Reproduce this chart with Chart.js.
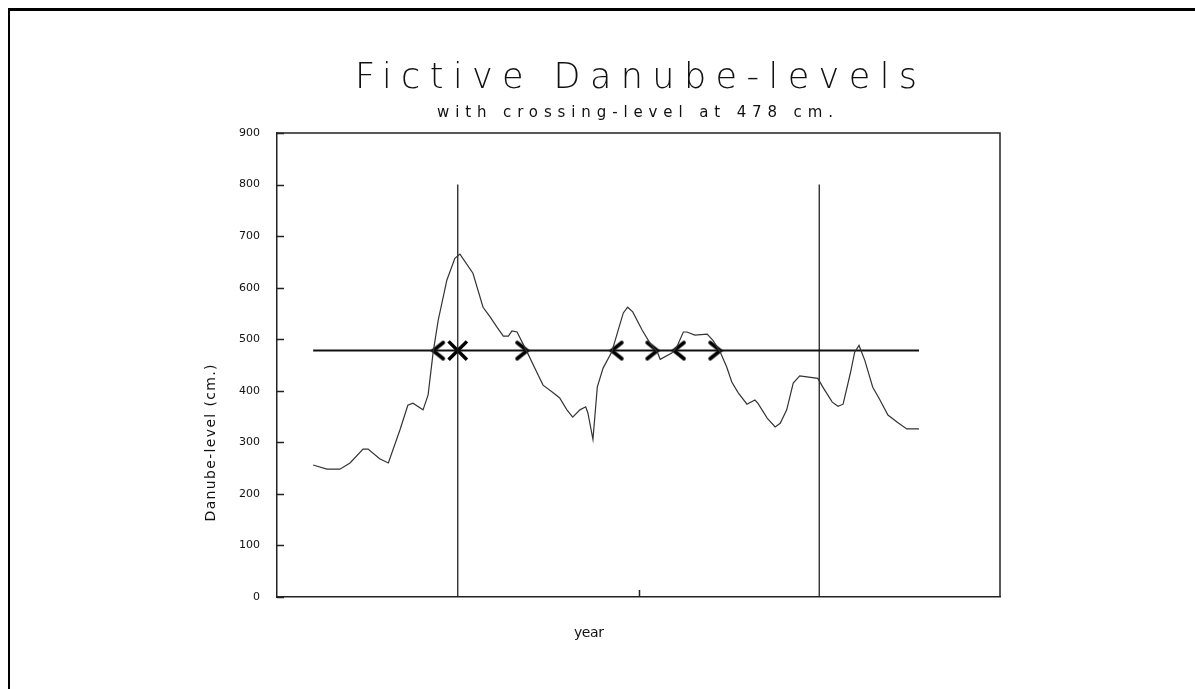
<!DOCTYPE html>
<html>
<head>
<meta charset="utf-8">
<script src="https://cdn.jsdelivr.net/npm/chart.js@4.4.0/dist/chart.umd.min.js"></script>
<style>
    html, body { margin: 0; padding: 0; background: #fff; }
    #wrap { position: relative; width: 1195px; height: 689px; }
    #frame { position: absolute; left: 8px; top: 8px; right: 0; bottom: 0;
             border-top: 3px solid #000; border-left: 2px solid #000; pointer-events: none; }
</style>
</head>
<body>
<div id="wrap">
    <canvas id="danubeChart" width="1195" height="689"></canvas>
    <div id="frame"></div>
</div>
<script>
// Values (x = position along the year axis, 0..100)
const years = [5.0, 6.9, 8.7, 10.1, 11.9, 12.6, 14.2, 15.4, 17.0, 18.1, 18.8, 20.2, 20.9, 21.6, 22.3, 23.5,
    24.6, 25.3, 27.1, 28.5, 29.5, 30.4, 31.3, 32.0, 32.5, 33.2, 34.6, 36.0, 36.8, 38.2, 39.1, 40.1, 40.9,
    41.9, 42.7, 43.0, 43.7, 44.3, 45.1, 46.3, 47.2, 47.9, 48.5, 49.2, 50.5, 51.6, 52.6, 53.0, 54.6, 55.3,
    56.2, 56.7, 57.8, 59.5, 60.3, 61.3, 62.2, 62.9, 63.8, 65.0, 66.1, 66.5, 67.8, 68.9, 69.6, 70.5, 71.4,
    72.3, 73.3, 74.8, 75.5, 76.8, 77.6, 78.3, 79.3, 79.9, 80.5, 81.3, 82.4, 83.4, 84.5, 85.8, 87.1, 88.8];
const levels = [256, 248, 248, 260, 287, 287, 268, 260, 324, 372, 376, 363, 392, 475, 537, 615,
    657, 665, 628, 562, 543, 524, 506, 506, 516, 514, 475, 434, 411, 396, 386, 363, 349,
    363, 369, 357, 306, 407, 444, 475, 518, 551, 562, 553, 518, 492, 475, 461, 473, 485,
    514, 514, 508, 510, 498, 475, 446, 417, 396, 374, 382, 376, 347, 330, 337, 363, 415,
    429, 427, 424, 407, 378, 370, 374, 434, 475, 488, 459, 407, 382, 353, 339, 326, 326];

const crossLevel = 478;
const upCross = [21.6, 46.3, 54.9];     // drawn as "<"
const downCross = [34.6, 52.6, 61.3];   // drawn as ">"
const markYears = [25, 75];             // vertical marker lines
const markTop = 800;
const starYear = [25];                  // the "x" on the crossing line

const yTicks = [0, 100, 200, 300, 400, 500, 600, 700, 800, 900];
const xTicks = [50];

const titleText = 'Fictive Danube-levels';
const subtitleText = 'with crossing-level at 478 cm.';
const yTitle = 'Danube-level (cm.)';
const xTitle = 'year';

// chevron point styles, tip sits on the point
function chevron(dir) {
    const c = document.createElement('canvas');
    c.width = 30; c.height = 22;
    const g = c.getContext('2d');
    g.strokeStyle = '#000';
    g.lineWidth = 3.8;
    g.lineCap = 'round';
    const tipX = 15, armX = 15 - dir * 10;
    g.beginPath();
    g.moveTo(armX, 3);
    g.lineTo(tipX, 11);
    g.lineTo(armX, 19);
    g.stroke();
    return c;
}

function spacedText(ctx, text, cx, baseY, font, width) {
    ctx.font = font;
    ctx.letterSpacing = '0px';
    const w = ctx.measureText(text).width;
    const sp = (width - w) / (text.length - 1);
    ctx.letterSpacing = sp + 'px';
    ctx.textAlign = 'left';
    ctx.textBaseline = 'alphabetic';
    ctx.fillText(text, cx - width / 2, baseY);
    ctx.letterSpacing = '0px';
}

const decorPlugin = {
    id: 'decor',
    afterDraw(chart) {
        const { ctx, chartArea: a, scales } = chart;
        const x = scales.x, y = scales.y;
        ctx.save();
        ctx.strokeStyle = '#222';
        ctx.lineWidth = 1.5;
        ctx.beginPath();
        ctx.moveTo(a.left, a.top);
        ctx.lineTo(a.right, a.top);
        ctx.lineTo(a.right, a.bottom);
        ctx.stroke();

        // inner tick marks
        ctx.beginPath();
        yTicks.forEach(v => {
            const py = Math.round(y.getPixelForValue(v)) + 0.5;
            ctx.moveTo(a.left, py);
            ctx.lineTo(a.left + 7, py);
        });
        xTicks.forEach(v => {
            const px = Math.round(x.getPixelForValue(v)) + 0.5;
            ctx.moveTo(px, a.bottom);
            ctx.lineTo(px, a.bottom - 7);
        });
        ctx.stroke();

        ctx.fillStyle = '#111';
        spacedText(ctx, titleText, 636, 88, '200 35px "DejaVu Sans"', 562);
        spacedText(ctx, subtitleText, 635, 117, '15px "DejaVu Sans"', 396);
        spacedText(ctx, xTitle, 589, 637, '14px "DejaVu Sans"', 30);

        ctx.translate(210, 443);
        ctx.rotate(-Math.PI / 2);
        spacedText(ctx, yTitle, 0, 5, '14px "DejaVu Sans"', 157);
        ctx.restore();
    }
};

const ctx = document.getElementById('danubeChart').getContext('2d');

new Chart(ctx, {
    type: 'line',
    data: {
        datasets: [
            {
                data: years.map((yr, i) => ({ x: yr, y: levels[i] })),
                borderColor: '#333',
                borderWidth: 1.2,
                pointRadius: 0,
                tension: 0
            },
            {
                data: [{ x: years[0], y: crossLevel }, { x: years[years.length - 1], y: crossLevel }],
                borderColor: '#111',
                borderWidth: 2,
                pointRadius: 0
            },
            ...markYears.map(m => ({
                data: [{ x: m, y: 0 }, { x: m, y: markTop }],
                borderColor: '#222',
                borderWidth: 1.3,
                pointRadius: 0
            })),
            {
                data: upCross.map(v => ({ x: v, y: crossLevel })),
                showLine: false,
                pointStyle: chevron(-1),
                pointRadius: 10
            },
            {
                data: downCross.map(v => ({ x: v, y: crossLevel })),
                showLine: false,
                pointStyle: chevron(1),
                pointRadius: 10
            },
            {
                data: starYear.map(v => ({ x: v, y: crossLevel })),
                showLine: false,
                pointStyle: 'crossRot',
                pointRadius: 13,
                borderColor: '#000',
                borderWidth: 3.5
            }
        ]
    },
    options: {
        responsive: false,
        devicePixelRatio: 1,
        animation: false,
        layout: { padding: { top: 133, left: 0, right: 195, bottom: 92 } },
        plugins: {
            legend: { display: false },
            tooltip: { enabled: false }
        },
        scales: {
            x: {
                type: 'linear',
                min: 0,
                max: 100,
                ticks: { display: false },
                grid: { display: false, drawTicks: false },
                border: { display: true, color: '#222', width: 1.5 },
                afterFit(s) { s.height = 0; }
            },
            y: {
                min: 0,
                max: 900,
                ticks: {
                    stepSize: 100,
                    padding: 17,
                    color: '#111',
                    font: { family: 'DejaVu Sans', size: 11 }
                },
                grid: { display: false, drawTicks: false },
                border: { display: true, color: '#222', width: 1.5 },
                afterFit(s) { s.width = 277; }
            }
        }
    },
    plugins: [decorPlugin]
});
</script>
</body>
</html>
